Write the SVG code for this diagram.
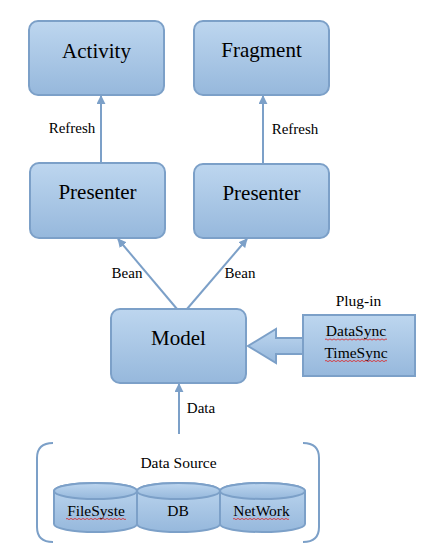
<svg xmlns="http://www.w3.org/2000/svg" width="430" height="556" viewBox="0 0 430 556">
<style>
.box{fill:url(#g);stroke:#7ca0c8;stroke-width:2}
.t{fill:#000;text-anchor:middle;font-family:"Liberation Serif","Times New Roman",serif}
.big{font-size:21px}
.sm{font-size:15px}
.md{font-size:15.5px}
.line{stroke:#7ca0c8;stroke-width:2;fill:none}
.sq{stroke:#e02020;stroke-width:0.8;fill:none}
</style>
<defs>
<linearGradient id="g" x1="0" y1="0" x2="0" y2="1">
<stop offset="0" stop-color="#bdd6ef"/>
<stop offset="1" stop-color="#96b8dc"/>
</linearGradient>
<marker id="ah" viewBox="0 0 10 10" refX="9" refY="5" markerWidth="4.5" markerHeight="4.5" orient="auto" markerUnits="strokeWidth">
<path d="M0,0 L10,5 L0,10 z" fill="#7ca0c8"/>
</marker>
</defs>
<g id="connectors">
<line class="line" x1="101" y1="163" x2="101" y2="96" marker-end="url(#ah)"/>
<line class="line" x1="263" y1="164" x2="263" y2="96" marker-end="url(#ah)"/>
<line class="line" x1="177" y1="309" x2="118" y2="239" marker-end="url(#ah)"/>
<line class="line" x1="187" y1="309" x2="247" y2="239" marker-end="url(#ah)"/>
<line class="line" x1="179" y1="434" x2="179" y2="384" marker-end="url(#ah)"/>
<path class="box" d="M303,338 L276,338 L276,329 L248,346 L276,363 L276,354 L303,354"/>
<text class="t sm" x="72" y="133">Refresh</text>
<text class="t sm" x="295" y="134">Refresh</text>
<text class="t sm" x="127" y="278">Bean</text>
<text class="t sm" x="240" y="278">Bean</text>
<text class="t sm" x="201" y="413">Data</text>
</g>
<g id="activity">
<rect class="box" x="29" y="21" width="135" height="74" rx="9"/>
<text class="t big" x="96.5" y="58">Activity</text>
</g>
<g id="fragment">
<rect class="box" x="194" y="21" width="135" height="74" rx="9"/>
<text class="t big" x="261.5" y="57">Fragment</text>
</g>
<g id="presenter1">
<rect class="box" x="30" y="163" width="135" height="75" rx="9"/>
<text class="t big" x="97.5" y="199">Presenter</text>
</g>
<g id="presenter2">
<rect class="box" x="194" y="164" width="135" height="74" rx="9"/>
<text class="t big" x="261.5" y="200">Presenter</text>
</g>
<g id="model">
<rect class="box" x="111" y="309" width="135" height="74" rx="9"/>
<text class="t big" x="178.5" y="345">Model</text>
</g>
<g id="plugin">
<text class="t md" x="358.5" y="306">Plug-in</text>
<rect class="box" x="303" y="315" width="112" height="61"/>
<text class="t md" x="356" y="336">DataSync</text>
<text class="t md" x="356" y="357.5">TimeSync</text>
<path class="sq" d="M325,339.5 q1,-1.2 2,0 t2,0 t2,0 t2,0 t2,0 t2,0 t2,0 t2,0 t2,0 t2,0 t2,0 t2,0 t2,0 t2,0 t2,0 t2,0 t2,0 t2,0 t2,0 t2,0 t2,0 t2,0 t2,0 t2,0 t2,0 t2,0 t2,0 t2,0 t2,0 t2,0 t2,0"/>
<path class="sq" d="M325,361 q1,-1.2 2,0 t2,0 t2,0 t2,0 t2,0 t2,0 t2,0 t2,0 t2,0 t2,0 t2,0 t2,0 t2,0 t2,0 t2,0 t2,0 t2,0 t2,0 t2,0 t2,0 t2,0 t2,0 t2,0 t2,0 t2,0 t2,0 t2,0 t2,0 t2,0 t2,0 t2,0"/>
</g>
<g id="datasource">
<path class="line" d="M53,443 Q37,443 37,458 L37,527 Q37,542 53,542"/>
<path class="line" d="M303,443 Q319,443 319,458 L319,527 Q319,542 303,542"/>
<text class="t md" x="178.5" y="468">Data Source</text>
</g>
<g id="filesystem">
<path class="box" d="M54,491 A41.5,8 0 0 1 137,491 L137,524 A41.5,8 0 0 1 54,524 Z"/>
<ellipse class="box" cx="95.5" cy="491" rx="41.5" ry="8"/>
<text class="t md" x="96" y="516">FileSyste</text>
<path class="sq" d="M66,519 q1,-1.2 2,0 t2,0 t2,0 t2,0 t2,0 t2,0 t2,0 t2,0 t2,0 t2,0 t2,0 t2,0 t2,0 t2,0 t2,0 t2,0 t2,0 t2,0 t2,0 t2,0 t2,0 t2,0 t2,0 t2,0 t2,0 t2,0 t2,0 t2,0 t2,0 t2,0"/>
</g>
<g id="db">
<path class="box" d="M137,491 A41.5,8 0 0 1 220,491 L220,524 A41.5,8 0 0 1 137,524 Z"/>
<ellipse class="box" cx="178.5" cy="491" rx="41.5" ry="8"/>
<text class="t md" x="178" y="516">DB</text>
</g>
<g id="network">
<path class="box" d="M220,491 A42.5,8 0 0 1 305,491 L305,524 A42.5,8 0 0 1 220,524 Z"/>
<ellipse class="box" cx="262.5" cy="491" rx="42.5" ry="8"/>
<text class="t md" x="261.5" y="516">NetWork</text>
<path class="sq" d="M233,519 q1,-1.2 2,0 t2,0 t2,0 t2,0 t2,0 t2,0 t2,0 t2,0 t2,0 t2,0 t2,0 t2,0 t2,0 t2,0 t2,0 t2,0 t2,0 t2,0 t2,0 t2,0 t2,0 t2,0 t2,0 t2,0 t2,0 t2,0 t2,0 t2,0"/>
</g>
</svg>
